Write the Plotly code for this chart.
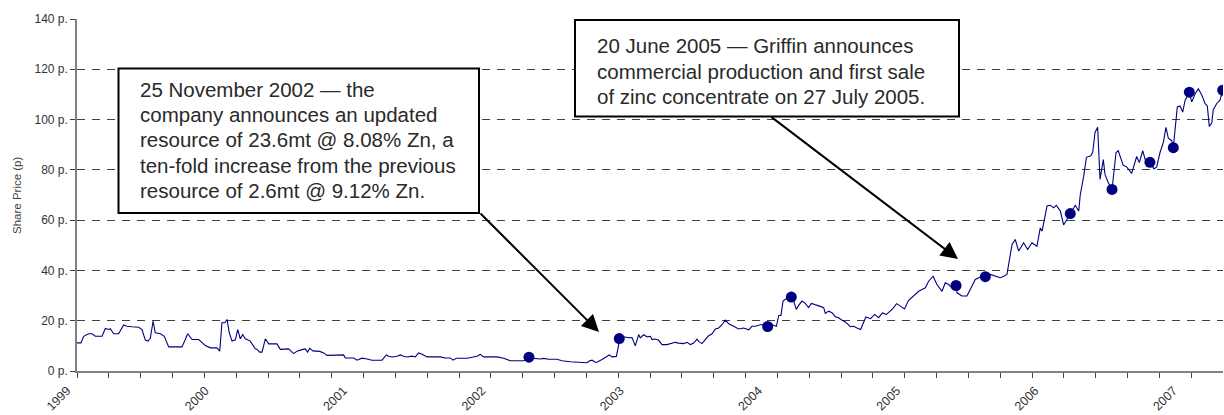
import plotly.graph_objects as go

# ---------------- data ----------------
years = [
    1999.000, 1999.029, 1999.048, 1999.084, 1999.108, 1999.133, 1999.181, 1999.205, 1999.229, 1999.241,
    1999.265, 1999.301, 1999.337, 1999.362, 1999.398, 1999.446, 1999.470, 1999.494, 1999.513, 1999.530,
    1999.550, 1999.566, 1999.603, 1999.631, 1999.663, 1999.699, 1999.759, 1999.783, 1999.800, 1999.832,
    1999.880, 1999.928, 1999.964, 2000.012, 2000.032, 2000.048, 2000.068, 2000.085, 2000.101, 2000.121,
    2000.145, 2000.162, 2000.181, 2000.198, 2000.217, 2000.253, 2000.289, 2000.302, 2000.321, 2000.338,
    2000.362, 2000.386, 2000.446, 2000.470, 2000.494, 2000.530, 2000.567, 2000.591, 2000.627, 2000.651,
    2000.668, 2000.682, 2000.706, 2000.755, 2000.784, 2000.808, 2000.880, 2000.928, 2000.940, 2001.000,
    2001.025, 2001.061, 2001.097, 2001.133, 2001.205, 2001.237, 2001.254, 2001.278, 2001.314, 2001.338,
    2001.362, 2001.386, 2001.422, 2001.446, 2001.470, 2001.495, 2001.531, 2001.627, 2001.663, 2001.699,
    2001.719, 2001.743, 2001.820, 2001.856, 2001.892, 2001.916, 2001.940, 2002.037, 2002.085, 2002.133,
    2002.230, 2002.268, 2002.350, 2002.374, 2002.410, 2002.471, 2002.507, 2002.567, 2002.615, 2002.652,
    2002.688, 2002.707, 2002.724, 2002.748, 2002.760, 2002.796, 2002.832, 2002.849, 2002.868, 2002.900,
    2002.917, 2002.921, 2002.929, 2002.953, 2002.989, 2003.013, 2003.037, 2003.061, 2003.073, 2003.097,
    2003.122, 2003.146, 2003.158, 2003.182, 2003.206, 2003.230, 2003.266, 2003.302, 2003.326, 2003.350,
    2003.387, 2003.411, 2003.435, 2003.459, 2003.483, 2003.495, 2003.519, 2003.543, 2003.567, 2003.592,
    2003.616, 2003.640, 2003.664, 2003.688, 2003.712, 2003.748, 2003.784, 2003.820, 2003.857, 2003.881,
    2003.905, 2003.941, 2003.965, 2003.994, 2004.025, 2004.057, 2004.074, 2004.090, 2004.105, 2004.122,
    2004.165, 2004.182, 2004.201, 2004.218, 2004.242, 2004.266, 2004.290, 2004.310, 2004.339, 2004.370,
    2004.399, 2004.411, 2004.435, 2004.459, 2004.483, 2004.507, 2004.532, 2004.556, 2004.592, 2004.616,
    2004.640, 2004.666, 2004.704, 2004.738, 2004.767, 2004.796, 2004.824, 2004.853, 2004.897, 2004.926,
    2004.954, 2004.983, 2005.012, 2005.050, 2005.086, 2005.110, 2005.134, 2005.158, 2005.190, 2005.218,
    2005.255, 2005.278, 2005.303, 2005.327, 2005.356, 2005.363, 2005.399, 2005.435, 2005.459, 2005.495,
    2005.544, 2005.568, 2005.604, 2005.640, 2005.676, 2005.701, 2005.724, 2005.761, 2005.784, 2005.809,
    2005.845, 2005.874, 2005.905, 2005.941, 2005.965, 2005.978, 2006.014, 2006.038, 2006.062, 2006.081,
    2006.110, 2006.134, 2006.153, 2006.182, 2006.218, 2006.243, 2006.254, 2006.279, 2006.299, 2006.330,
    2006.344, 2006.361, 2006.380, 2006.397, 2006.421, 2006.433, 2006.457, 2006.484, 2006.513, 2006.529,
    2006.565, 2006.590, 2006.626, 2006.662, 2006.681, 2006.706, 2006.730, 2006.758, 2006.787, 2006.807,
    2006.831, 2006.855, 2006.874, 2006.891, 2006.916, 2006.927, 2006.946, 2006.956, 2006.975, 2006.995,
    2007.012, 2007.043, 2007.060, 2007.084, 2007.108, 2007.132, 2007.156, 2007.173, 2007.187, 2007.205,
    2007.216, 2007.241, 2007.265, 2007.284,
]
price = [
    11.2, 11.2, 13.8, 14.8, 14.8, 13.8, 13.8, 16.9, 16.5, 16.8,
    14.8, 14.8, 18.3, 17.8, 17.6, 17.4, 16.5, 12.3, 11.9, 13.0,
    19.8, 15.2, 14.8, 13.8, 9.6, 9.6, 9.6, 12.5, 14.8, 12.5,
    12.5, 10.1, 9.2, 9.2, 7.9, 19.2, 19.2, 20.5, 15.2, 11.9,
    12.4, 16.5, 12.8, 14.5, 12.8, 11.9, 8.8, 8.6, 7.5, 7.5,
    12.8, 10.8, 10.8, 8.6, 8.6, 8.8, 6.9, 7.9, 8.5, 8.8,
    7.5, 9.0, 8.0, 7.8, 7.2, 6.2, 6.3, 6.4, 5.2, 5.2,
    4.3, 5.1, 4.8, 4.3, 4.3, 6.4, 5.9, 5.6, 5.9, 6.4,
    5.9, 5.6, 5.9, 5.6, 7.2, 6.7, 5.6, 5.6, 5.2, 5.2,
    4.3, 5.1, 5.1, 5.6, 5.9, 6.6, 5.6, 5.6, 5.1, 4.1,
    4.1, 5.2, 4.8, 5.0, 4.7, 4.7, 4.1, 3.7, 3.5, 3.3,
    3.3, 4.1, 4.3, 3.5, 3.5, 4.6, 5.6, 6.4, 5.6, 5.8,
    10.5, 12.9, 13.2, 13.6, 13.2, 13.3, 10.0, 14.5, 13.2, 14.4,
    13.6, 13.8, 12.5, 12.7, 12.2, 10.5, 10.5, 10.9, 11.4, 11.1,
    10.9, 11.4, 10.5, 11.1, 12.7, 11.8, 10.9, 12.5, 14.0, 14.8,
    16.7, 17.1, 18.4, 20.2, 18.8, 17.8, 16.7, 17.1, 16.4, 17.8,
    17.8, 18.4, 18.4, 17.7, 18.4, 17.8, 22.1, 22.1, 27.8, 28.5,
    29.4, 27.8, 24.5, 26.1, 27.8, 26.9, 25.2, 26.9, 26.5, 25.8,
    25.2, 22.9, 23.8, 23.2, 21.6, 21.2, 20.2, 19.5, 17.6, 17.8,
    17.1, 16.5, 21.5, 20.8, 22.5, 21.2, 23.1, 22.5, 24.7, 26.8,
    25.8, 24.7, 28.0, 29.8, 31.7, 32.4, 33.1, 35.7, 37.7, 34.4,
    31.7, 35.1, 34.4, 33.1, 34.0, 31.1, 29.8, 29.8, 32.4, 36.4,
    37.7, 37.5, 38.4, 37.7, 37.1, 37.7, 38.4, 50.3, 52.3, 47.7,
    51.0, 48.3, 51.0, 49.6, 56.9, 55.6, 65.6, 65.9, 64.9, 65.9,
    63.6, 58.1, 60.0, 62.6, 65.9, 63.6, 70.0, 77.5, 85.0, 85.6,
    86.9, 94.9, 96.9, 76.2, 84.1, 78.2, 74.9, 72.2, 86.9, 87.6,
    81.8, 81.2, 78.6, 85.3, 82.9, 87.6, 82.9, 83.0, 80.4, 81.2,
    86.9, 90.9, 96.9, 92.6, 91.6, 88.8, 100.4, 105.0, 105.4, 103.0,
    107.6, 110.9, 107.0, 110.2, 112.2, 109.9, 106.4, 105.4, 97.3, 98.6,
    103.9, 106.4, 107.7, 111.7,
]
event_years = [2002.268, 2002.921, 2003.994, 2004.165, 2005.356, 2005.568,
               2006.182, 2006.484, 2006.758, 2006.927, 2007.043, 2007.284]
event_price = [5.5, 12.9, 17.7, 29.4, 34.0, 37.5,
               62.6, 72.2, 83.0, 88.8, 110.9, 111.7]

x_tick_years = [1999, 2000, 2001, 2002, 2003, 2004, 2005, 2006, 2007]
x_tick_labels = ["1999", "2000", "2001", "2002", "2003", "2004", "2005", "2006", "2007"]
y_tick_values = [0, 20, 40, 60, 80, 100, 120, 140]
y_tick_labels = ["0 p.", "20 p.", "40 p.", "60 p.", "80 p.", "100 p.", "120 p.", "140 p."]

note1_lines = ["25 November 2002 \u2014 the",
               "company announces an updated",
               "resource of 23.6mt @ 8.08% Zn, a",
               "ten-fold increase from the previous",
               "resource of 2.6mt @ 9.12% Zn."]
note2_lines = ["20 June 2005 \u2014 Griffin announces",
               "commercial production and first sale",
               "of zinc concentrate on 27 July 2005."]

# ---------------- layout geometry ----------------
W, H = 1224, 415
L, R, T, B = 77, 1, 19, 44
PW, PH = W - L - R, H - T - B
X0 = 1999.0
X1 = 1999.0 + PW / 138.3          # 138.3 px per year
FONT = "Liberation Sans, Arial, Helvetica, sans-serif"
NAVY = "#000080"


def fx(px):
    return (px - L) / PW


def fy(py):
    return (H - B - py) / PH


fig = go.Figure()
fig.add_trace(go.Scatter(x=years, y=price, mode="lines",
                         line=dict(color=NAVY, width=1.1), hoverinfo="skip"))
fig.add_trace(go.Scatter(x=event_years, y=event_price, mode="markers",
                         marker=dict(color=NAVY, size=11), hoverinfo="skip"))
# empty trace that only carries the year-label axis
fig.add_trace(go.Scatter(x=x_tick_years, y=[None] * len(x_tick_years), xaxis="x2",
                         mode="markers", hoverinfo="skip", showlegend=False))

shapes = [
    dict(type="rect", xref="paper", yref="paper", x0=fx(118.5), x1=fx(479), y0=fy(213), y1=fy(68.5),
         line=dict(color="black", width=2), fillcolor="white", layer="above"),
    dict(type="rect", xref="paper", yref="paper", x0=fx(575), x1=fx(959), y0=fy(116.5), y1=fy(20),
         line=dict(color="black", width=2), fillcolor="white", layer="above"),
]

TXT = dict(family=FONT, size=20.5, color="#2a2a2a")
annotations = []
for i, line in enumerate(note1_lines):
    annotations.append(dict(xref="paper", yref="paper", x=fx(138), y=fy(89 + i * 25.4),
                            xanchor="left", yanchor="middle", text=line, showarrow=False, font=TXT))
for i, line in enumerate(note2_lines):
    annotations.append(dict(xref="paper", yref="paper", x=fx(595), y=fy(46 + i * 25),
                            xanchor="left", yanchor="middle", text=line, showarrow=False, font=TXT))
# arrows
annotations.append(dict(xref="paper", yref="paper", x=fx(599), y=fy(332), ax=-120, ay=-120,
                        text="", showarrow=True, arrowhead=2, arrowsize=1.7, arrowwidth=2,
                        arrowcolor="black"))
annotations.append(dict(xref="paper", yref="paper", x=fx(958), y=fy(259), ax=-188, ay=-143,
                        text="", showarrow=True, arrowhead=2, arrowsize=1.7, arrowwidth=2,
                        arrowcolor="black"))
# y-axis title
annotations.append(dict(xref="paper", yref="paper", x=fx(17), y=0.5, text="Share Price (p)",
                        textangle=-90, showarrow=False, xanchor="center", yanchor="middle",
                        font=dict(family=FONT, size=11.5, color="#444444")))

fig.update_layout(
    width=W, height=H,
    margin=dict(l=L, r=R, t=T, b=B, pad=0, autoexpand=False),
    paper_bgcolor="white", plot_bgcolor="white",
    showlegend=False,
    shapes=shapes, annotations=annotations,
    font=dict(family=FONT, color="#333333"),
    xaxis=dict(
        range=[X0, X1], tickmode="linear", tick0=1999, dtick=0.2302,
        ticks="outside", ticklen=5, tickwidth=1, tickcolor="#404040",
        showticklabels=False, showgrid=False, zeroline=False, automargin=False,
        showline=True, linecolor="#808080", linewidth=2,
    ),
    xaxis2=dict(
        overlaying="x", anchor="y", side="bottom", range=[X0, X1],
        tickmode="array", tickvals=x_tick_years, ticktext=x_tick_labels,
        tickangle=-45, ticks="", showgrid=False, zeroline=False, showline=False,
        automargin=False, ticklabelstandoff=9, ticklabelshift=-10,
        tickfont=dict(family=FONT, size=12.5, color="#333333"),
    ),
    yaxis=dict(
        range=[0, 140], tickmode="array", tickvals=y_tick_values, ticktext=y_tick_labels,
        ticks="outside", ticklen=5, tickcolor="#404040", tickwidth=1, automargin=False,
        showgrid=True, gridcolor="#404040", gridwidth=1, griddash="8px,7px",
        zeroline=False, showline=True, linecolor="#808080", linewidth=1.5,
        tickfont=dict(family=FONT, size=12, color="#333333"),
    ),
)

fig.write_html("out.html")
